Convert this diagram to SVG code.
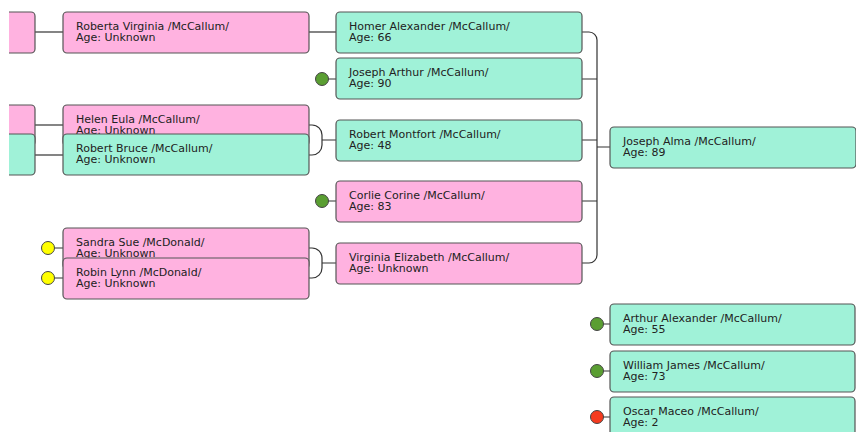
<svg xmlns="http://www.w3.org/2000/svg" width="856" height="432" viewBox="0 0 856 432">
<style>
.f{fill:#ffb2e0;stroke:#555;stroke-width:1.2}
.m{fill:#a0f2d8;stroke:#555;stroke-width:1.2}
text{font-family:"DejaVu Sans",sans-serif;font-size:11px;fill:#222}
.c{fill:none;stroke:#333;stroke-width:1.2}
.dot{stroke:#444;stroke-width:1}
</style>
<defs>
<clipPath id="clipL"><rect x="9" y="0" width="60" height="432"/></clipPath>
</defs>
<rect width="856" height="432" fill="#fff"/>
<g id="connectors">
<path class="c" d="M35 32H63"/>
<path class="c" d="M35 125H63"/>
<path class="c" d="M35 155H63"/>
<path class="c" d="M309 32H336"/>
<path class="c" d="M309 125H312A10 10 0 0 1 322 135V145A10 10 0 0 1 312 155H309M322 140H336"/>
<path class="c" d="M309 248H312A10 10 0 0 1 322 258V268A10 10 0 0 1 312 278H309M322 263H336"/>
<path class="c" d="M55 248H63M55 278H63"/>
<path class="c" d="M322 79H336M322 201H336"/>
<path class="c" d="M582 32H589A8 8 0 0 1 597 40V255A8 8 0 0 1 589 263H582"/>
<path class="c" d="M582 79H597M582 140H597M582 201H597M597 147H610"/>
<path class="c" d="M597 324H610M597 371H610M597 417H610"/>
</g>
<g id="n-left1" clip-path="url(#clipL)"><rect class="f" x="-200" y="12" width="235" height="41" rx="4"/></g>
<g id="n-left2" clip-path="url(#clipL)"><rect class="f" x="-200" y="105" width="235" height="41" rx="4"/></g>
<g id="n-left3" clip-path="url(#clipL)"><rect class="m" x="-200" y="134" width="235" height="41" rx="4"/></g>
<g id="n-roberta"><rect class="f" x="63" y="12" width="246" height="41" rx="4"/><text x="76" y="29.5">Roberta Virginia /McCallum/</text><text x="76" y="40.5">Age: Unknown</text></g>
<g id="n-helen"><rect class="f" x="63" y="105" width="246" height="41" rx="4"/><text x="76" y="122.5">Helen Eula /McCallum/</text><text x="76" y="133.5">Age: Unknown</text></g>
<g id="n-robertbruce"><rect class="m" x="63" y="134" width="246" height="41" rx="4"/><text x="76" y="151.5">Robert Bruce /McCallum/</text><text x="76" y="162.5">Age: Unknown</text></g>
<g id="n-sandra"><circle class="dot" cx="48" cy="248" r="6.5" fill="#ffff00"/><rect class="f" x="63" y="228" width="246" height="41" rx="4"/><text x="76" y="245.5">Sandra Sue /McDonald/</text><text x="76" y="256.5">Age: Unknown</text></g>
<g id="n-robin"><circle class="dot" cx="48" cy="278" r="6.5" fill="#ffff00"/><rect class="f" x="63" y="258" width="246" height="41" rx="4"/><text x="76" y="275.5">Robin Lynn /McDonald/</text><text x="76" y="286.5">Age: Unknown</text></g>
<g id="n-homer"><rect class="m" x="336" y="12" width="246" height="41" rx="4"/><text x="349" y="29.5">Homer Alexander /McCallum/</text><text x="349" y="40.5">Age: 66</text></g>
<g id="n-josepharthur"><circle class="dot" cx="322" cy="79" r="6.5" fill="#5a9e32"/><rect class="m" x="336" y="58" width="246" height="41" rx="4"/><text x="349" y="75.5">Joseph Arthur /McCallum/</text><text x="349" y="86.5">Age: 90</text></g>
<g id="n-robertmontfort"><rect class="m" x="336" y="120" width="246" height="41" rx="4"/><text x="349" y="137.5">Robert Montfort /McCallum/</text><text x="349" y="148.5">Age: 48</text></g>
<g id="n-corlie"><circle class="dot" cx="322" cy="201" r="6.5" fill="#5a9e32"/><rect class="f" x="336" y="181" width="246" height="41" rx="4"/><text x="349" y="198.5">Corlie Corine /McCallum/</text><text x="349" y="209.5">Age: 83</text></g>
<g id="n-virginia"><rect class="f" x="336" y="243" width="246" height="41" rx="4"/><text x="349" y="260.5">Virginia Elizabeth /McCallum/</text><text x="349" y="271.5">Age: Unknown</text></g>
<g id="n-josephalma"><rect class="m" x="610" y="127" width="246" height="41" rx="4"/><text x="623" y="144.5">Joseph Alma /McCallum/</text><text x="623" y="155.5">Age: 89</text></g>
<g id="n-arthur"><circle class="dot" cx="597" cy="324" r="6.5" fill="#5a9e32"/><rect class="m" x="610" y="304" width="245" height="41" rx="4"/><text x="623" y="321.5">Arthur Alexander /McCallum/</text><text x="623" y="332.5">Age: 55</text></g>
<g id="n-william"><circle class="dot" cx="597" cy="371" r="6.5" fill="#5a9e32"/><rect class="m" x="610" y="351" width="245" height="41" rx="4"/><text x="623" y="368.5">William James /McCallum/</text><text x="623" y="379.5">Age: 73</text></g>
<g id="n-oscar"><circle class="dot" cx="597" cy="417" r="6.5" fill="#f53b1f"/><rect class="m" x="610" y="397" width="245" height="41" rx="4"/><text x="623" y="414.5">Oscar Maceo /McCallum/</text><text x="623" y="425.5">Age: 2</text></g>
</svg>
